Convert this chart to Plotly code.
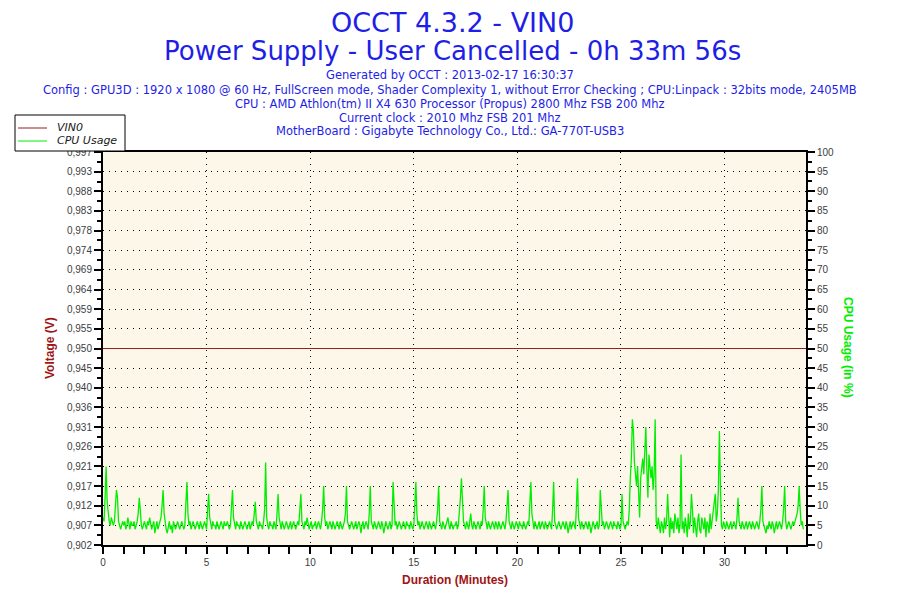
import numpy as np
import plotly.graph_objects as go

# CPU usage (%), one reading every 3 s (0.05 min)
cpu_usage = [
  7, 6, 12, 20, 11, 8, 6, 5, 7, 6, 5, 6, 9, 14, 12, 6, 5, 4, 5, 6,
  5, 6, 4, 5, 7, 5, 4, 6, 5, 5, 6, 4, 5, 6, 8, 12, 9, 5, 4, 5,
  6, 5, 4, 6, 5, 7, 5, 4, 5, 6, 3, 5, 6, 4, 5, 6, 7, 10, 14, 8,
  5, 4, 3, 5, 6, 4, 5, 3, 6, 5, 4, 5, 6, 5, 4, 5, 6, 5, 4, 5,
  10, 16, 8, 5, 6, 4, 5, 6, 5, 4, 5, 6, 5, 4, 6, 5, 4, 5, 6, 5,
  4, 9, 13, 7, 5, 4, 6, 5, 5, 4, 6, 5, 4, 5, 6, 5, 4, 6, 5, 5,
  6, 5, 4, 5, 10, 14, 7, 5, 4, 6, 5, 5, 4, 6, 5, 4, 5, 6, 5, 4,
  5, 6, 4, 5, 6, 5, 8, 11, 6, 5, 4, 6, 5, 5, 4, 6, 9, 21, 7, 5,
  4, 6, 5, 5, 4, 6, 5, 4, 8, 13, 7, 5, 4, 6, 5, 4, 5, 6, 5, 4,
  5, 6, 4, 5, 6, 5, 4, 5, 6, 5, 9, 13, 6, 5, 4, 6, 5, 7, 5, 4,
  5, 6, 4, 5, 5, 6, 4, 5, 6, 5, 4, 6, 9, 15, 7, 5, 6, 4, 5, 6,
  5, 4, 6, 5, 4, 5, 6, 5, 4, 6, 5, 4, 5, 6, 8, 15, 6, 5, 4, 5,
  6, 5, 4, 5, 6, 4, 5, 6, 5, 3, 5, 6, 4, 5, 6, 5, 4, 8, 15, 6,
  5, 4, 6, 5, 4, 5, 6, 5, 4, 6, 5, 3, 5, 6, 5, 4, 5, 6, 4, 5,
  16, 9, 5, 6, 4, 5, 6, 5, 4, 5, 6, 5, 4, 6, 5, 5, 4, 6, 5, 4,
  5, 10, 16, 8, 5, 6, 4, 5, 6, 5, 4, 5, 6, 5, 4, 6, 5, 4, 5, 6,
  5, 4, 6, 9, 15, 6, 5, 4, 6, 5, 4, 5, 6, 7, 5, 4, 6, 5, 4, 5,
  5, 6, 4, 5, 8, 12, 17, 11, 6, 5, 4, 6, 5, 4, 6, 8, 5, 4, 6, 5,
  4, 5, 6, 5, 4, 6, 5, 9, 15, 7, 5, 4, 6, 5, 4, 5, 6, 5, 4, 6,
  5, 4, 6, 5, 4, 5, 6, 5, 4, 6, 10, 14, 6, 5, 4, 6, 5, 4, 5, 6,
  5, 4, 6, 5, 5, 4, 6, 5, 4, 5, 6, 5, 10, 16, 8, 5, 4, 6, 5, 4,
  5, 6, 4, 5, 6, 5, 4, 6, 5, 4, 5, 6, 5, 4, 9, 16, 6, 5, 4, 5,
  6, 5, 4, 5, 6, 5, 4, 6, 5, 3, 5, 6, 4, 5, 6, 5, 4, 10, 17, 7,
  5, 4, 6, 5, 4, 5, 6, 5, 4, 6, 5, 3, 5, 6, 5, 4, 5, 6, 4, 5,
  14, 9, 5, 6, 4, 5, 6, 5, 4, 5, 6, 5, 4, 6, 5, 5, 4, 6, 5, 4,
  5, 13, 6, 5, 4, 5, 6, 5, 9, 17, 22, 32, 29, 21, 18, 15, 20, 12, 7, 17,
  20, 22, 18, 27, 30, 19, 12, 23, 19, 17, 20, 14, 18, 32, 6, 4, 7, 5, 3, 6,
  5, 3, 7, 4, 6, 13, 5, 2, 7, 4, 6, 3, 8, 5, 4, 7, 3, 5, 23, 4,
  6, 3, 7, 5, 2, 8, 4, 6, 13, 9, 3, 7, 5, 2, 6, 8, 4, 3, 7, 5,
  4, 7, 2, 6, 5, 3, 8, 4, 6, 9, 11, 13, 6, 8, 14, 29, 15, 5, 4, 6,
  5, 4, 6, 5, 4, 5, 6, 4, 5, 6, 5, 4, 7, 12, 6, 5, 4, 6, 5, 4,
  5, 6, 4, 5, 6, 5, 4, 6, 5, 4, 5, 6, 5, 4, 6, 9, 15, 6, 5, 4,
  3, 5, 4, 6, 5, 4, 6, 5, 3, 5, 6, 4, 5, 6, 5, 4, 6, 9, 15, 6,
  4, 5, 6, 5, 4, 5, 6, 5, 6, 7, 8, 10, 15, 9, 5, 6, 4,
]
sample_step = 0.05  # minutes between readings
cpu_time = [i * sample_step for i in range(len(cpu_usage))]

# VIN0 stayed flat for the whole run
vin0_time = [0, 33.93]
vin0_volts = [0.950, 0.950]

volt_tick_text = [
  "0,902", "0,907", "0,912", "0,917", "0,921", "0,926", "0,931", "0,936",
  "0,940", "0,945", "0,950", "0,955", "0,959", "0,964", "0,969", "0,974",
  "0,978", "0,983", "0,988", "0,993", "0,997",
]
volt_range = [0.9025, 0.9975]

titles = ["OCCT 4.3.2 - VIN0", "Power Supply - User Cancelled - 0h 33m 56s"]
info_lines = [
  "Generated by OCCT : 2013-02-17 16:30:37",
  "Config : GPU3D : 1920 x 1080 @ 60 Hz, FullScreen mode, Shader Complexity 1, without Error Checking ; CPU:Linpack : 32bits mode, 2405MB",
  "CPU : AMD Athlon(tm) II X4 630 Processor (Propus) 2800 Mhz FSB 200 Mhz",
  "Current clock : 2010 Mhz FSB 201 Mhz",
  "MotherBoard : Gigabyte Technology Co., Ltd.: GA-770T-USB3",
]
series_names = ["VIN0", "CPU Usage"]

BLUE = "#1e1ee6"
DARKRED = "#a01414"
VIN_COLOR = "#961e1e"
GREEN = "#00ee00"

# the page body adds an 8px offset, so margins are shifted by it
OFF = 8
L, R, T, B = 103, 806, 152, 545
W, H = 900, 600
def py(y):
  return (B - y) / (B - T)
def px(x):
  return (x - L) / (R - L)

fig = go.Figure()
fig.add_trace(go.Scatter(x=vin0_time, y=vin0_volts, name=series_names[0], mode="lines",
                         line=dict(color=VIN_COLOR, width=1), yaxis="y"))
fig.add_trace(go.Scatter(x=cpu_time, y=cpu_usage, name=series_names[1], mode="lines",
                         line=dict(color=GREEN, width=1.3), yaxis="y2"))

volt_ticks = np.linspace(volt_range[0], volt_range[1], len(volt_tick_text))
tick_font = dict(family="Liberation Sans, Arial", size=10, color="#404040")

fig.update_layout(
  width=W, height=H,
  margin=dict(l=L - OFF, r=W - R + OFF, t=T - OFF, b=H - B + OFF, autoexpand=False),
  paper_bgcolor="white",
  plot_bgcolor="#fdf7e9",
  showlegend=False,
  xaxis=dict(range=[0, 33.93], dtick=5, tick0=0,
             ticks="outside", ticklen=7, tickcolor="black", tickwidth=2,
             minor=dict(dtick=1, ticks="outside", ticklen=7, tickcolor="black", tickwidth=2),
             showline=True, linecolor="black", linewidth=2, mirror=True,
             showgrid=True, gridcolor="black", griddash="1px,5px", gridwidth=1,
             zeroline=False, tickfont=tick_font),
  yaxis=dict(range=[volt_range[0], volt_range[1] + 0.00001], tickvals=volt_ticks, ticktext=volt_tick_text,
             ticks="outside", ticklen=7, tickcolor="black", tickwidth=2,
             minor=dict(tickvals=(volt_ticks[:-1] + volt_ticks[1:]) / 2,
                        ticks="outside", ticklen=4, tickcolor="black"),
             showline=True, linecolor="black", linewidth=2,
             showgrid=True, gridcolor="black", griddash="1px,5px", gridwidth=1,
             zeroline=False, tickfont=tick_font),
  yaxis2=dict(range=[0, 100], dtick=5, overlaying="y", side="right",
              ticks="outside", ticklen=7, tickcolor="black", tickwidth=2,
              minor=dict(dtick=2.5, ticks="outside", ticklen=4, tickcolor="black"),
              showline=True, linecolor="black", linewidth=2,
              showgrid=False, zeroline=False, tickfont=tick_font),
)

def note(text, x, y, font, xanchor="center", angle=0):
  fig.add_annotation(text=text, x=px(x), xref="paper", xanchor=xanchor, y=py(y), yref="paper",
                     yanchor="middle", textangle=angle, showarrow=False, font=font)

# titles and header lines
title_y = [22, 51]
title_size = [27, 26]
for txt, y, sz in zip(titles, title_y, title_size):
  note(txt, 452, y, dict(family="DejaVu Sans", size=sz, color=BLUE))
info_y = [75, 90, 104, 118, 131]
for txt, y in zip(info_lines, info_y):
  note(txt, 450, y, dict(family="DejaVu Sans", size=11.5, color=BLUE))

# legend box (drawn by hand to get the compact OCCT look)
fig.add_shape(type="rect", xref="paper", yref="paper", x0=px(15), x1=px(125), y0=py(151), y1=py(115),
              line=dict(color="black", width=1), fillcolor="white", layer="above")
legend_y = [128, 141]
for name, color, y in zip(series_names, [VIN_COLOR, GREEN], legend_y):
  fig.add_shape(type="line", xref="paper", yref="paper", x0=px(18), x1=px(47), y0=py(y), y1=py(y),
                line=dict(color=color, width=1), layer="above")
  note(name, 55, y, dict(family="DejaVu Sans", size=11, color="#202020", style="italic"), xanchor="left")

# axis titles
axis_font = dict(family="Liberation Sans, Arial", size=12, color=DARKRED)
note("<b>Voltage (V)</b>", 50, 348, axis_font, angle=-90)
note("<b>Duration (Minutes)</b>", 455, 580, axis_font)
note("<b>CPU Usage (in %)</b>", 848, 348,
     dict(family="Liberation Sans, Arial", size=12, color=GREEN), angle=90)

fig.write_html("out.html")
